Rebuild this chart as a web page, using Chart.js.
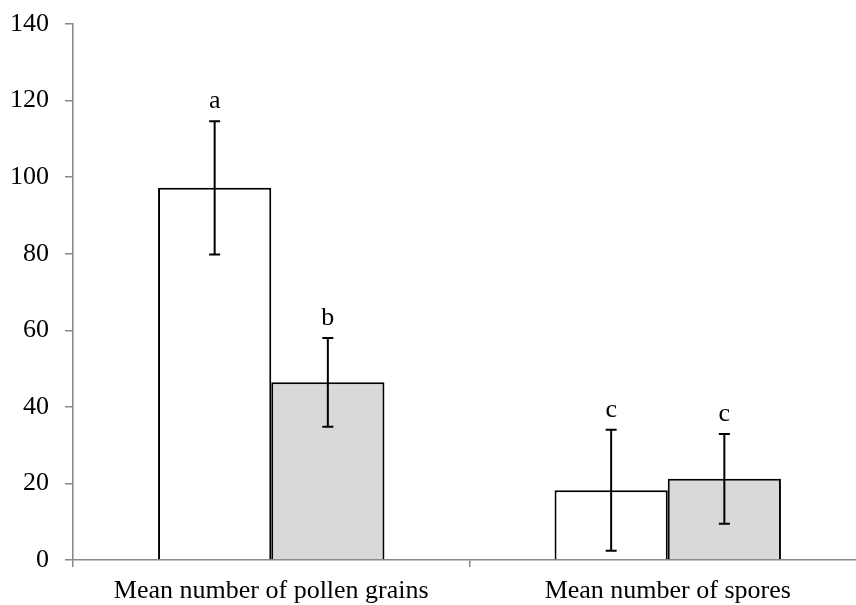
<!DOCTYPE html>
<html>
<head>
<meta charset="utf-8">
<script src="https://cdn.jsdelivr.net/npm/chart.js@4.4.1/dist/chart.umd.min.js"></script>
<style>
  html, body { margin: 0; padding: 0; background: #ffffff; overflow: hidden; }
  #wrap { width: 856px; height: 605px; overflow: hidden; position: relative; }
  canvas { display: block; }
</style>
</head>
<body>
<div id="wrap"><canvas id="chart" width="866" height="605"></canvas></div>
<script>
// Categories and per-group means with their error half-widths
const categories = ['Mean number of pollen grains', 'Mean number of spores'];
const whiteMeans = [97.2, 18.2];
const whiteErrors = [17.4, 15.8];
const grayMeans = [46.4, 21.2];
const grayErrors = [11.6, 11.7];
// Significance letters shown above each error bar
const whiteLetters = ['a', 'c'];
const grayLetters = ['b', 'c'];
// Y axis range and tick step
const yMin = 0;
const yMax = 140;
const yStep = 20;

const serif = '"Liberation Serif", "Times New Roman", serif';
const axisGray = '#878787';

// Draws the error whiskers and the letters above them, positioned via the chart scales
const errorBarPlugin = {
  id: 'errorBars',
  afterDatasetsDraw(chart) {
    const ctx = chart.ctx;
    const yScale = chart.scales.y;
    chart.data.datasets.forEach((ds, di) => {
      const meta = chart.getDatasetMeta(di);
      meta.data.forEach((bar, i) => {
        const mean = ds.data[i];
        const err = ds.errors[i];
        const x = bar.x;
        const yTop = yScale.getPixelForValue(mean + err);
        const yBot = yScale.getPixelForValue(mean - err);
        const cap = 5.5;
        ctx.save();
        ctx.strokeStyle = '#000000';
        ctx.lineWidth = 2;
        ctx.beginPath();
        ctx.moveTo(x, yTop);
        ctx.lineTo(x, yBot);
        ctx.moveTo(x - cap, yTop);
        ctx.lineTo(x + cap, yTop);
        ctx.moveTo(x - cap, yBot);
        ctx.lineTo(x + cap, yBot);
        ctx.stroke();
        ctx.fillStyle = '#000000';
        ctx.font = '26px ' + serif;
        ctx.textAlign = 'center';
        ctx.textBaseline = 'alphabetic';
        ctx.fillText(ds.letters[i], x, yTop - 13);
        ctx.restore();
      });
    });
  }
};

new Chart(document.getElementById('chart'), {
  type: 'bar',
  data: {
    labels: categories,
    datasets: [
      {
        data: whiteMeans,
        errors: whiteErrors,
        letters: whiteLetters,
        backgroundColor: '#ffffff',
        borderColor: '#000000',
        borderWidth: 2,
        categoryPercentage: 0.571,
        barPercentage: 1.0
      },
      {
        data: grayMeans,
        errors: grayErrors,
        letters: grayLetters,
        backgroundColor: '#d9d9d9',
        borderColor: '#000000',
        borderWidth: 2,
        categoryPercentage: 0.571,
        barPercentage: 1.0
      }
    ]
  },
  options: {
    responsive: false,
    animation: false,
    devicePixelRatio: 1,
    layout: { padding: { top: 24, left: 0, right: 0, bottom: 0 } },
    plugins: {
      legend: { display: false },
      tooltip: { enabled: false }
    },
    scales: {
      x: {
        grid: {
          display: true,
          drawOnChartArea: false,
          drawTicks: true,
          tickLength: 7,
          color: axisGray,
          lineWidth: 1.5
        },
        border: { display: true, color: axisGray, width: 1.5 },
        ticks: {
          color: '#000000',
          font: { family: serif, size: 26 },
          padding: 9,
          maxRotation: 0
        },
        afterFit(scale) { scale.height = 45; }
      },
      y: {
        min: yMin,
        max: yMax,
        grid: {
          display: true,
          drawOnChartArea: false,
          drawTicks: true,
          tickLength: 8,
          color: axisGray,
          lineWidth: 1.5
        },
        border: { display: true, color: axisGray, width: 1.5 },
        ticks: {
          stepSize: yStep,
          color: '#000000',
          font: { family: serif, size: 26 },
          padding: 16
        },
        afterFit(scale) {
          scale.width = 73;
          scale.paddingTop = 0;
        }
      }
    }
  },
  plugins: [errorBarPlugin]
});
</script>
</body>
</html>
